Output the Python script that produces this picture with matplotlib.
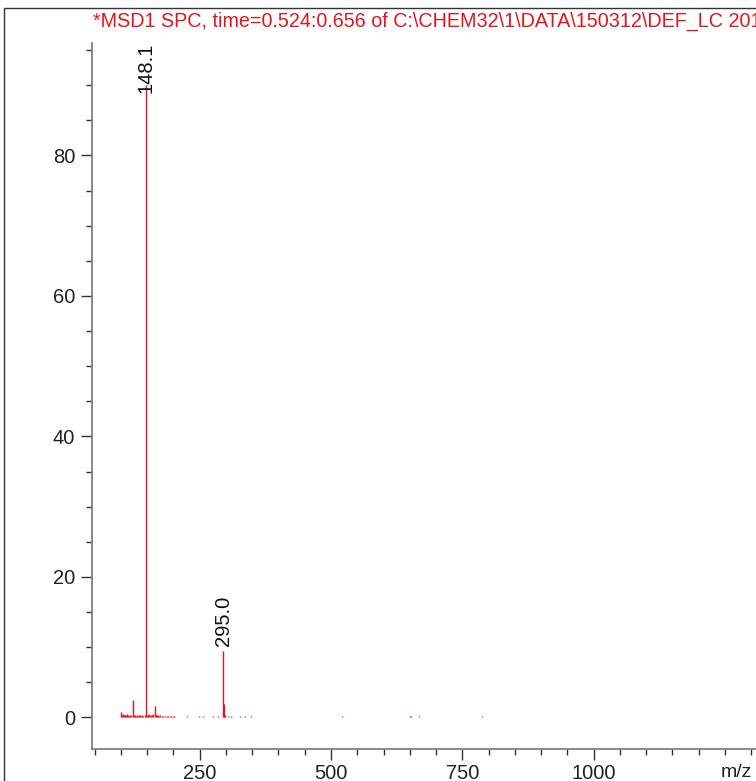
import matplotlib
matplotlib.use("Agg")
import matplotlib.pyplot as plt
from matplotlib.patches import Rectangle
from matplotlib.ticker import MultipleLocator

plt.rcParams['font.family'] = ['Liberation Sans', 'DejaVu Sans']

# spectrum sticks (m/z, abundance)
mz = [101, 102, 104, 106, 108, 110, 112, 114, 116, 118, 120, 123, 125, 127,
      129, 131, 133, 135, 137, 139, 141, 143, 145, 148.1, 150, 152, 154, 156,
      158, 160, 162, 164, 166, 168, 170, 172, 175, 178, 181, 184, 187, 190,
      193, 196, 199, 202, 225, 248, 256, 275, 285, 295.0, 296, 297, 299, 303,
      310, 326, 336, 348, 520, 650, 652, 668, 787]
abund = [0.8, 0.4, 0.5, 0.3, 0.4, 0.3, 0.5, 0.3, 0.2, 0.4, 0.3, 2.5, 0.4, 0.3,
         0.2, 0.3, 0.2, 0.3, 0.4, 0.2, 0.3, 0.2, 0.3, 90.0, 0.4, 0.3, 0.5, 0.2,
         0.4, 0.3, 0.5, 1.6, 0.4, 0.3, 0.3, 0.2, 0.3, 0.2, 0.2, 0.2, 0.2, 0.2,
         0.2, 0.2, 0.2, 0.2, 0.2, 0.2, 0.2, 0.2, 0.2, 9.4, 1.9, 0.5, 0.3, 0.2,
         0.2, 0.2, 0.2, 0.2, 0.2, 0.25, 0.2, 0.2, 0.2]

labels_mz = [148.1, 295.0]
labels_txt = ["148.1", "295.0"]

title = r"*MSD1 SPC, time=0.524:0.656 of C:\CHEM32\1\DATA\150312\DEF_LC 201"

red = '#e8141c'
W, H = 756, 781
fig = plt.figure(figsize=(W / 100, H / 100), dpi=100)

# axes runs off the right edge like the cropped reference
ax = fig.add_axes([92 / W, 32 / H, (1400 - 45) * 0.5253 / W, 706 / H])
ax.set_xlim(45, 1400)
ax.set_ylim(-4.5, 96)

ax.vlines(mz, 0, abund, color=red, lw=1.0)

for m, t in zip(labels_mz, labels_txt):
    h = abund[mz.index(m)]
    if h > 80:
        ax.text(m, 96, t, rotation=90, ha='center', va='top',
                fontsize=14.5, color='#111111')
    else:
        ax.annotate(t, (m, h), xytext=(0, 3.5), textcoords='offset points',
                    rotation=90, ha='center', va='bottom',
                    fontsize=14.5, color='#111111')

for s in ['top', 'right']:
    ax.spines[s].set_visible(False)
for s in ['left', 'bottom']:
    ax.spines[s].set_color('#808080')
    ax.spines[s].set_linewidth(1.3)

ax.xaxis.set_major_locator(MultipleLocator(250))
ax.xaxis.set_minor_locator(MultipleLocator(50))
ax.yaxis.set_major_locator(MultipleLocator(20))
ax.yaxis.set_minor_locator(MultipleLocator(5))
ax.tick_params(which='major', length=8, width=1, color='#333333',
               labelsize=14.5, labelcolor='#222222', pad=4)
ax.tick_params(axis='x', which='major', pad=3)
ax.tick_params(which='minor', length=4, width=1, color='#333333')
ax.set_xticks([250, 500, 750, 1000])
ax.set_xticklabels(['250', '500', '750', '1000'])
ax.set_yticks([0, 20, 40, 60, 80])

ax.text(1241, -6.6, "m/z", ha='left', va='top',
        fontsize=14, color='#222222')

fig.text(93 / W, 1 - 27 / H, title, color=red, fontsize=14.2,
         ha='left', va='baseline')

# outer frame (left and top edges visible)
fig.patches.append(Rectangle((4 / W, -0.2), 1.5, 1.2 - 8 / H,
                             transform=fig.transFigure, fill=False,
                             edgecolor='#333333', lw=1.0))

fig.savefig("out.png", dpi=100)
